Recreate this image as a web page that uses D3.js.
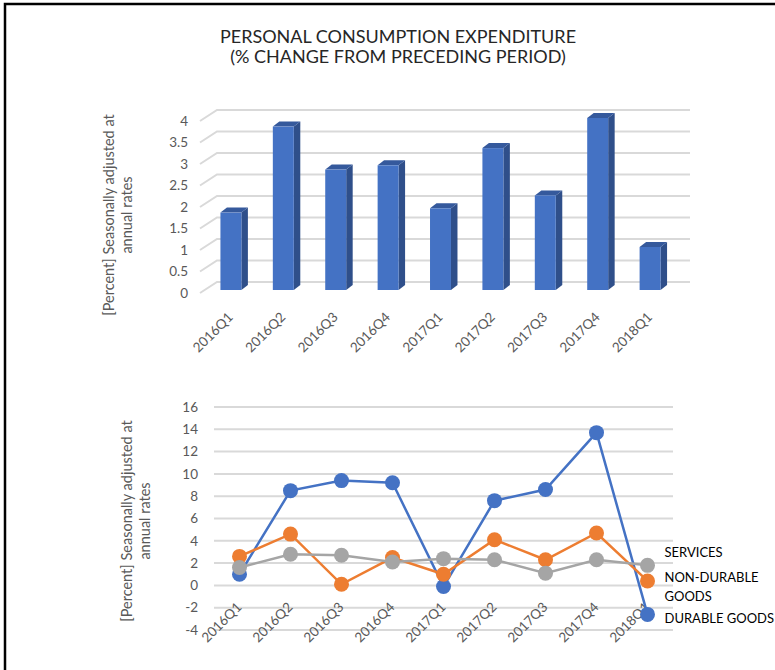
<!DOCTYPE html>
<html>
<head>
<meta charset="utf-8">
<script src="https://cdn.jsdelivr.net/npm/d3@7"></script>
<style>
  body { margin: 0; background: #fff; }
  svg { display: block; font-family: Lato, "Noto Sans", sans-serif; }
</style>
</head>
<body>
<svg id="chart" width="775" height="670"></svg>
<script>
// quarters, shared by both charts
var quarters = ["2016Q1", "2016Q2", "2016Q3", "2016Q4", "2017Q1", "2017Q2", "2017Q3", "2017Q4", "2018Q1"];

// top chart : total PCE
var pceTotal = [1.8, 3.8, 2.8, 2.9, 1.9, 3.3, 2.2, 4.0, 1.0];
var topTicks = [0, 0.5, 1, 1.5, 2, 2.5, 3, 3.5, 4];

// bottom chart : components
var durableGoods = [1.0, 8.5, 9.4, 9.2, -0.1, 7.6, 8.6, 13.7, -2.6];
var nonDurableGoods = [2.6, 4.6, 0.1, 2.5, 1.0, 4.1, 2.3, 4.7, 0.4];
var services = [1.6, 2.8, 2.7, 2.1, 2.4, 2.3, 1.1, 2.3, 1.8];
var bottomTicks = [-4, -2, 0, 2, 4, 6, 8, 10, 12, 14, 16];

var grid = "#d9d9d9", txt = "#595959";
var svg = d3.select("#chart");

// frame
svg.append("path")
    .attr("d", "M5,670 L5,4 L775,4")
    .attr("fill", "none")
    .attr("stroke", "#000")
    .attr("stroke-width", 2.5);

// title
var title = svg.append("text")
    .attr("x", 398)
    .attr("text-anchor", "middle")
    .attr("font-size", 18)
    .attr("fill", "#262626");
title.append("tspan").attr("x", 398).attr("y", 43).text("PERSONAL CONSUMPTION EXPENDITURE");
title.append("tspan").attr("x", 398).attr("y", 63).text("(% CHANGE FROM PRECEDING PERIOD)");

function axisTitle(cx, cy) {
    var t = svg.append("text")
        .attr("transform", "translate(" + cx + "," + cy + ") rotate(-90)")
        .attr("text-anchor", "middle")
        .attr("font-size", 14.5)
        .attr("fill", txt);
    t.append("tspan").attr("x", 0).attr("y", 0).text("[Percent] Seasonally adjusted at");
    t.append("tspan").attr("x", 0).attr("y", 18).text("annual rates");
}

// ---------- top chart (3D columns) ----------
var depthX = 17, depthY = 11;   // wall depth
var yTop = d3.scaleLinear().domain([0, 4]).range([282, 110]);
var xTop = d3.scaleBand().domain(quarters).range([189, 692]).padding(0.6);

var gTop = svg.append("g");

gTop.selectAll(".grid")
    .data(topTicks)
    .enter()
    .append("path")
        .attr("d", function(d) {
            var y = yTop(d);
            return "M200," + (y + depthY) + " L" + (200 + depthX) + "," + y + " L690," + y;
        })
        .attr("fill", "none")
        .attr("stroke", grid)
        .attr("stroke-width", 2);

gTop.selectAll(".ytick")
    .data(topTicks)
    .enter()
    .append("text")
        .attr("x", 188)
        .attr("y", function(d) { return yTop(d) + depthY; })
        .attr("dy", "0.35em")
        .attr("text-anchor", "end")
        .attr("font-size", 13.5)
        .attr("fill", txt)
        .text(function(d) { return d; });

var bw = xTop.bandwidth(), bx = 6.5, by = 5, off = 8;
var bars = gTop.selectAll(".bar")
    .data(pceTotal)
    .enter()
    .append("g");

bars.append("path")   // side
    .attr("d", function(d, i) {
        var x = xTop(quarters[i]) + bw, yt = yTop(d) + off, yb = yTop(0) + off;
        return "M" + x + "," + yt + " L" + (x + bx) + "," + (yt - by) + " L" + (x + bx) + "," + (yb - by) + " L" + x + "," + yb + "Z";
    })
    .attr("fill", "#2f4f8a");

bars.append("path")   // top
    .attr("d", function(d, i) {
        var x = xTop(quarters[i]), yt = yTop(d) + off;
        return "M" + x + "," + yt + " L" + (x + bx) + "," + (yt - by) + " L" + (x + bw + bx) + "," + (yt - by) + " L" + (x + bw) + "," + yt + "Z";
    })
    .attr("fill", "#35599c");

bars.append("rect")   // front
    .attr("x", function(d, i) { return xTop(quarters[i]); })
    .attr("y", function(d) { return yTop(d) + off; })
    .attr("width", bw)
    .attr("height", function(d) { return yTop(0) - yTop(d); })
    .attr("fill", "#4472c4");

gTop.selectAll(".xlab")
    .data(quarters)
    .enter()
    .append("text")
        .attr("transform", function(d) {
            return "translate(" + (xTop(d) + bw / 2 + 3) + ",318) rotate(-45)";
        })
        .attr("text-anchor", "end")
        .attr("font-size", 13.5)
        .attr("fill", txt)
        .text(function(d) { return d; });

axisTitle(114, 215);

// ---------- bottom chart (lines) ----------
var yB = d3.scaleLinear().domain([-4, 16]).range([630, 407]);
var xB = d3.scalePoint().domain(quarters).range([214, 673]).padding(0.5);

var gB = svg.append("g");

gB.selectAll(".grid")
    .data(bottomTicks)
    .enter()
    .append("line")
        .attr("x1", 214).attr("x2", 673)
        .attr("y1", function(d) { return yB(d); })
        .attr("y2", function(d) { return yB(d); })
        .attr("stroke", grid)
        .attr("stroke-width", 2);

gB.selectAll(".ytick")
    .data(bottomTicks)
    .enter()
    .append("text")
        .attr("x", 198)
        .attr("y", function(d) { return yB(d); })
        .attr("dy", "0.35em")
        .attr("text-anchor", "end")
        .attr("font-size", 13.5)
        .attr("fill", txt)
        .text(function(d) { return d; });

gB.selectAll(".xlab")
    .data(quarters)
    .enter()
    .append("text")
        .attr("transform", function(d) {
            return "translate(" + (xB(d) + 3) + ",608) rotate(-45)";
        })
        .attr("text-anchor", "end")
        .attr("font-size", 13.5)
        .attr("fill", txt)
        .text(function(d) { return d; });

var series = [
    { name: "DURABLE GOODS", values: durableGoods, color: "#4472c4" },
    { name: "NON-DURABLE GOODS", values: nonDurableGoods, color: "#ed7d31" },
    { name: "SERVICES", values: services, color: "#a5a5a5" }
];

var line = d3.line()
    .x(function(d, i) { return xB(quarters[i]); })
    .y(function(d) { return yB(d); });

series.forEach(function(s) {
    var g = gB.append("g");
    g.append("path")
        .attr("d", line(s.values))
        .attr("fill", "none")
        .attr("stroke", s.color)
        .attr("stroke-width", 2.5);
    g.selectAll("circle")
        .data(s.values)
        .enter()
        .append("circle")
            .attr("cx", function(d, i) { return xB(quarters[i]); })
            .attr("cy", function(d) { return yB(d); })
            .attr("r", 7.5)
            .attr("fill", s.color);
});

// series labels next to the last point
var last = quarters.length - 1;
var lx = xB(quarters[last]);
function label(y, lines) {
    var t = gB.append("text")
        .attr("font-size", 13)
        .attr("fill", "#000");
    lines.forEach(function(l, i) {
        t.append("tspan").attr("x", lx + 17).attr("y", y + i * 19).text(l);
    });
}
label(yB(services[last]) - 8, ["SERVICES"]);
label(yB(nonDurableGoods[last]) + 1, ["NON-DURABLE", "GOODS"]);
label(yB(durableGoods[last]) + 9, ["DURABLE GOODS"]);

axisTitle(132, 521);
</script>
</body>
</html>
